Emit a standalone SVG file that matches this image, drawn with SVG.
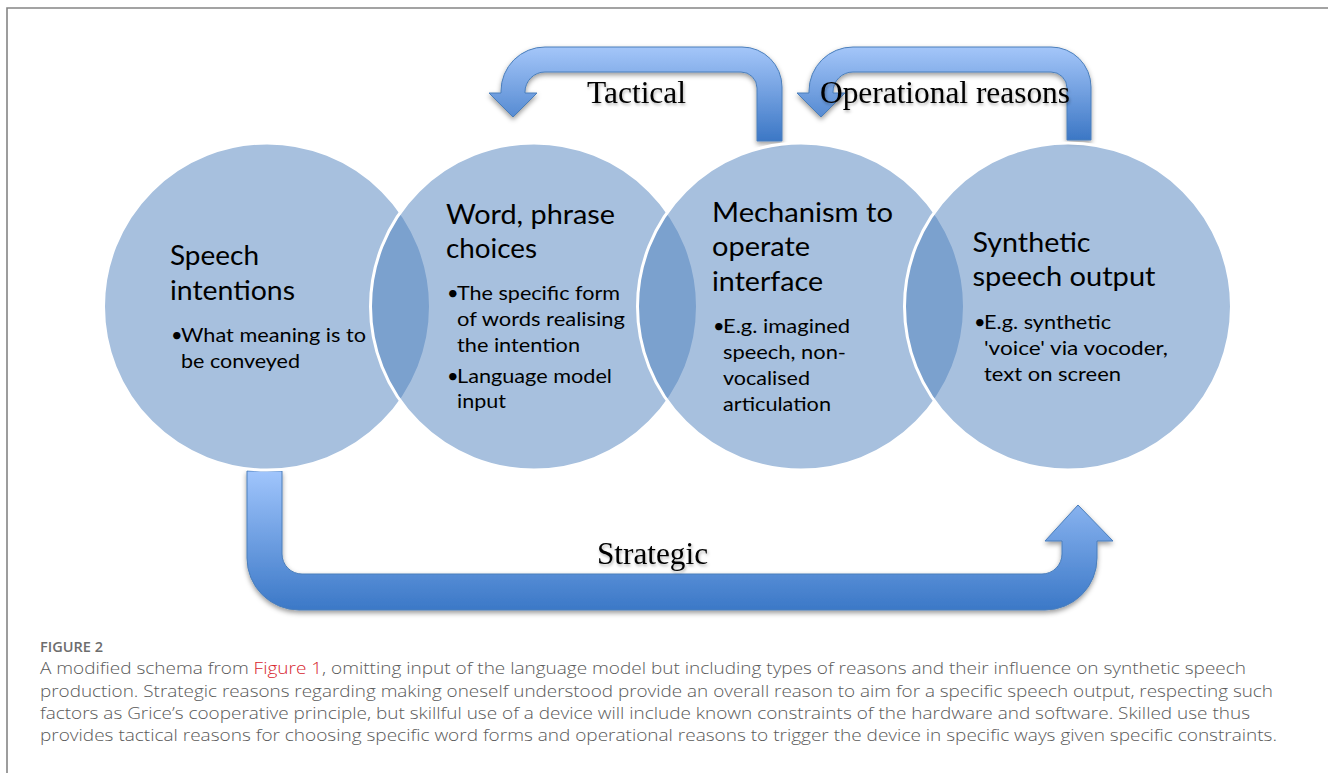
<svg xmlns="http://www.w3.org/2000/svg" width="1328" height="773" viewBox="0 0 1328 773">
<style>
.circle{fill:#4f81bd;fill-opacity:0.5;stroke:#ffffff;stroke-width:3}
.arrow{stroke:#4a7ebb;stroke-width:1;filter:url(#shadow)}
.lbl{font-family:"Liberation Serif","Times New Roman",serif;font-size:31px;fill:#000;filter:url(#tshadow)}
.title{font-family:Lato,"Open Sans",sans-serif;font-size:26px;fill:#000}
.bul{font-family:Lato,"Open Sans",sans-serif;font-size:20px;fill:#000}
.cap{font-family:"Open Sans","Noto Sans",sans-serif;font-size:16px;font-weight:300;fill:#5a5a5a}
.fig{font-family:"Open Sans","Noto Sans",sans-serif;font-size:13.5px;font-weight:600;fill:#6d6d6d}
</style>
<defs>
<linearGradient id="gTop" x1="0" y1="0" x2="0" y2="1">
<stop offset="0" stop-color="#a4c6f9"/>
<stop offset="1" stop-color="#3c77c5"/>
</linearGradient>
<linearGradient id="gBot" x1="0" y1="0" x2="0" y2="1">
<stop offset="0" stop-color="#a0c5fc"/>
<stop offset="1" stop-color="#3b78c7"/>
</linearGradient>
<filter id="shadow" x="-10%" y="-10%" width="120%" height="130%">
<feDropShadow dx="0" dy="2.5" stdDeviation="2.5" flood-color="#000" flood-opacity="0.4"/>
</filter>
<filter id="tshadow" x="-10%" y="-20%" width="120%" height="150%">
<feDropShadow dx="1" dy="2" stdDeviation="1.5" flood-color="#000" flood-opacity="0.3"/>
</filter>
</defs>
<rect x="0" y="0" width="1328" height="773" fill="#ffffff"/>
<path d="M7,773 V8 H1328" fill="none" stroke="#858585" stroke-width="1.6"/>

<g id="connectors">
<path id="tactical-arrow" class="arrow" fill="url(#gTop)" d="M782,141 V87 A40,40 0 0 0 742,47 H545 A44,44 0 0 0 501,91 V93 H489 L513,117 L537,93 H525 V92 A20,20 0 0 1 545,72 H741 A16,16 0 0 1 757,88 V141 Z"/>
<path id="operational-arrow" class="arrow" fill="url(#gTop)" d="M1091,140 V87 A40,40 0 0 0 1051,47 H853 A44,44 0 0 0 809,91 V93 H797 L821,117 L845,93 H833 V92 A20,20 0 0 1 853,72 H1051 A16,16 0 0 1 1067,88 V140 Z"/>
<path id="strategic-arrow" class="arrow" fill="url(#gBot)" d="M247,471 H282 V554 A20,20 0 0 0 302,574 H1042 A20,20 0 0 0 1062,554 V541 H1045 L1078,505 L1113,541 H1097 V558 A52,52 0 0 1 1045,610 H299 A52,52 0 0 1 247,558 Z"/>
<text class="lbl" x="587" y="103" textLength="99" lengthAdjust="spacingAndGlyphs">Tactical</text>
<text class="lbl" x="820" y="103" textLength="250" lengthAdjust="spacingAndGlyphs">Operational reasons</text>
<text class="lbl" x="597" y="564" textLength="111" lengthAdjust="spacingAndGlyphs">Strategic</text>
</g>

<g id="node-speech-intentions">
<circle class="circle" cx="267" cy="306.5" r="163.5"/>
<text class="title" x="170" y="265" textLength="89" lengthAdjust="spacingAndGlyphs">Speech</text>
<text class="title" x="170" y="300" textLength="125" lengthAdjust="spacingAndGlyphs">intentions</text>
<text class="bul" x="171" y="342">•</text>
<text class="bul" x="181" y="342" textLength="185" lengthAdjust="spacingAndGlyphs">What meaning is to</text>
<text class="bul" x="181" y="367.5" textLength="119" lengthAdjust="spacingAndGlyphs">be conveyed</text>
</g>

<g id="node-word-phrase">
<circle class="circle" cx="534" cy="306.5" r="163.5"/>
<text class="title" x="446" y="224" textLength="169" lengthAdjust="spacingAndGlyphs">Word, phrase</text>
<text class="title" x="446" y="258" textLength="91" lengthAdjust="spacingAndGlyphs">choices</text>
<text class="bul" x="447" y="300">•</text>
<text class="bul" x="457" y="300" textLength="163" lengthAdjust="spacingAndGlyphs">The specific form</text>
<text class="bul" x="457" y="326" textLength="168" lengthAdjust="spacingAndGlyphs">of words realising</text>
<text class="bul" x="457" y="352" textLength="123" lengthAdjust="spacingAndGlyphs">the intention</text>
<text class="bul" x="447" y="382.5">•</text>
<text class="bul" x="457" y="382.5" textLength="155" lengthAdjust="spacingAndGlyphs">Language model</text>
<text class="bul" x="457" y="408" textLength="49" lengthAdjust="spacingAndGlyphs">input</text>
</g>

<g id="node-mechanism">
<circle class="circle" cx="801" cy="306.5" r="163.5"/>
<text class="title" x="712" y="222" textLength="181" lengthAdjust="spacingAndGlyphs">Mechanism to</text>
<text class="title" x="712" y="256" textLength="98" lengthAdjust="spacingAndGlyphs">operate</text>
<text class="title" x="712" y="290.5" textLength="111" lengthAdjust="spacingAndGlyphs">interface</text>
<text class="bul" x="713" y="333">•</text>
<text class="bul" x="723" y="333" textLength="127" lengthAdjust="spacingAndGlyphs">E.g. imagined</text>
<text class="bul" x="723" y="359" textLength="123" lengthAdjust="spacingAndGlyphs">speech, non-</text>
<text class="bul" x="723" y="385" textLength="87" lengthAdjust="spacingAndGlyphs">vocalised</text>
<text class="bul" x="723" y="410.5" textLength="108" lengthAdjust="spacingAndGlyphs">articulation</text>
</g>

<g id="node-synthetic-output">
<circle class="circle" cx="1068" cy="306.5" r="163.5"/>
<text class="title" x="972.5" y="252" textLength="118" lengthAdjust="spacingAndGlyphs">Synthetic</text>
<text class="title" x="972.5" y="286" textLength="183" lengthAdjust="spacingAndGlyphs">speech output</text>
<text class="bul" x="974" y="329">•</text>
<text class="bul" x="984" y="329" textLength="127" lengthAdjust="spacingAndGlyphs">E.g. synthetic</text>
<text class="bul" x="984" y="355" textLength="184" lengthAdjust="spacingAndGlyphs">'voice' via vocoder,</text>
<text class="bul" x="984" y="380.5" textLength="137" lengthAdjust="spacingAndGlyphs">text on screen</text>
</g>

<g id="caption">
<text class="fig" x="40" y="652" textLength="63" lengthAdjust="spacingAndGlyphs">FIGURE 2</text>
<text class="cap" x="40" y="674" textLength="1206" lengthAdjust="spacingAndGlyphs">A modified schema from <tspan fill="#d7262e">Figure 1</tspan>, omitting input of the language model but including types of reasons and their influence on synthetic speech</text>
<text class="cap" x="40" y="696.5" textLength="1233" lengthAdjust="spacingAndGlyphs">production. Strategic reasons regarding making oneself understood provide an overall reason to aim for a specific speech output, respecting such</text>
<text class="cap" x="40" y="718.5" textLength="1210" lengthAdjust="spacingAndGlyphs">factors as Grice’s cooperative principle, but skillful use of a device will include known constraints of the hardware and software. Skilled use thus</text>
<text class="cap" x="40" y="741" textLength="1237" lengthAdjust="spacingAndGlyphs">provides tactical reasons for choosing specific word forms and operational reasons to trigger the device in specific ways given specific constraints.</text>
</g>
</svg>
